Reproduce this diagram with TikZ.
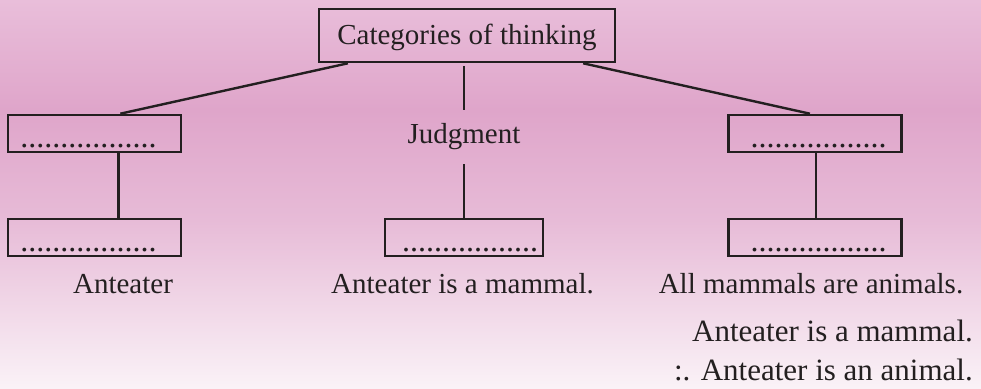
\documentclass[tikz,border=0pt]{standalone}
\usepackage{fontspec}
\setmainfont{Liberation Serif}
\usetikzlibrary{calc}
\definecolor{bgA}{HTML}{E9BEDA}
\definecolor{bgB}{HTML}{DFA5CA}
\definecolor{bgC}{HTML}{E7BBD7}
\definecolor{bgD}{HTML}{FAF2F7}
\definecolor{ink}{HTML}{231F20}
\newcommand{\dotrow}[1]{\kern#1pt{\fontsize{32}{34}\selectfont .................}\kern-#1pt}
\begin{document}
\begin{tikzpicture}[x=1pt,y=-1pt,
  every node/.style={text=ink},
  txt/.style={font=\fontsize{29}{32}\selectfont, inner sep=0pt},
  blank/.style={draw=ink, line width=2.6pt, minimum width=173pt, minimum height=37pt,
    inner sep=0pt, text height=32pt, text depth=4pt},
  conn/.style={draw=ink, line width=2.4pt}]
\useasboundingbox (0,0) rectangle (981,388);
\fill[top color=bgA,bottom color=bgB] (0,0) rectangle (981,110);
\fill[top color=bgB,bottom color=bgC] (0,110) rectangle (981,220);
\fill[top color=bgC,bottom color=bgD] (0,220) rectangle (981,388);

\node[draw=ink, line width=2.6pt, minimum width=296pt, minimum height=53pt, inner sep=0pt,
  text height=24pt, text depth=6pt, font=\fontsize{29}{32}\selectfont] (top) at (467,35.5) {Categories of thinking};

\node[blank] (lu) at (94.5,133.5) {\dotrow{-6}};
\node[blank] (ru) at (815,133.5) {\dotrow{3.5}};
\node[blank] (ll) at (94.5,237.5) {\dotrow{-6}};
\node[blank, minimum width=158pt] (ml) at (464,237.5) {\dotrow{6}};
\node[blank] (rl) at (815,237.5) {\dotrow{3.5}};

\node[txt, minimum height=54pt] (judg) at (464,137) {Judgment};

\draw[conn] ($(top.south west)!0.101!(top.south east)$) -- ($(lu.north west)!0.647!(lu.north east)$);
\draw[conn] ($(top.south west)!0.889!(top.south east)$) -- ($(ru.north west)!0.471!(ru.north east)$);
\draw[conn, shorten >=3pt] (judg.north) -- (judg.north |- top.south);
\draw[conn] (judg.south) -- (judg.south |- ml.north);
\coordinate (lv) at ($(lu.south west)!0.636!(lu.south east)$);
\draw[conn] (lv) -- (lv |- ll.north);
\coordinate (rv) at ($(ru.south west)!0.506!(ru.south east)$);
\draw[conn] (rv) -- (rv |- rl.north);

\node[txt, anchor=base] (a1) at (123,293) {Anteater};
\node[txt, anchor=base] (a2) at (462.5,293) {Anteater is a mammal.};
\node[txt, anchor=base] (a3) at (811,293) {All mammals are animals.};
\node[txt, anchor=base east, font=\fontsize{31}{34}\selectfont] (c1) at (973,341) {Anteater is a mammal.};
\node[txt, anchor=base east, font=\fontsize{31}{34}\selectfont] (c2) at (973,380) {:. Anteater is an animal.};
\end{tikzpicture}
\end{document}
